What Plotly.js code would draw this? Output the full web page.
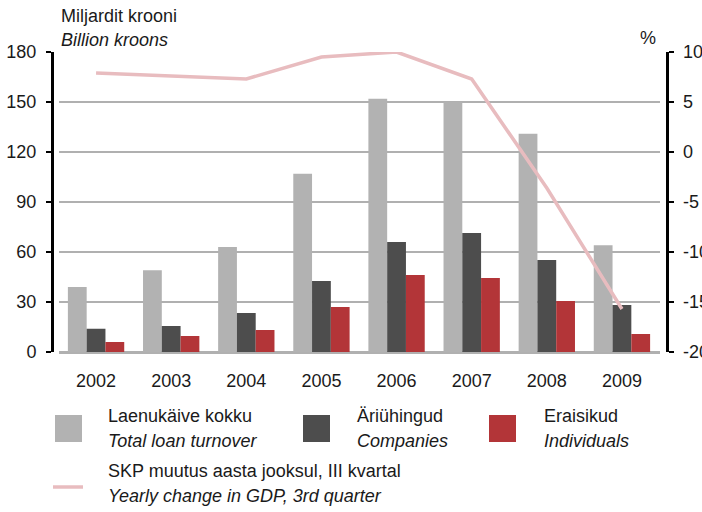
<!DOCTYPE html>
<html>
<head>
<meta charset="utf-8">
<script src="https://cdn.plot.ly/plotly-3.0.1.min.js"></script>
<style>
html,body{margin:0;padding:0;background:#fff;}
#chart{width:702px;height:512px;}
</style>
</head>
<body>
<div id="chart"></div>
<script>
// ---- data ----
const years = ['2002','2003','2004','2005','2006','2007','2008','2009'];
const totalTurnover = [39, 49, 63, 107, 152, 150, 131, 64];
const companies = [14, 15.6, 23.4, 42.6, 66, 71.4, 55.2, 28.2];
const individuals = [6, 9.6, 13.2, 27, 46.2, 44.4, 30.6, 10.8];
const gdpChange = [7.9, 7.6, 7.3, 9.5, 10.0, 7.3, -3.6, -15.7];

const leftTicks = [0, 30, 60, 90, 120, 150, 180];
const rightTicks = [-20, -15, -10, -5, 0, 5, 10];

const names = {
  total: ['Laenukäive kokku', 'Total loan turnover'],
  comp: ['Äriühingud', 'Companies'],
  ind: ['Eraisikud', 'Individuals'],
  gdp: ['SKP muutus aasta jooksul, III kvartal', 'Yearly change in GDP, 3rd quarter']
};

const colors = {total:'#b2b2b2', comp:'#4d4d4d', ind:'#b33538', gdp:'#e8bcbf'};
const FONT = 'Arial, "Liberation Sans", sans-serif';
const FS = 18;
const TXT = '#1a1a1a';

// ---- geometry helpers (pixel -> paper) ----
const L = 52, R = 667, T = 52, B = 352;
const px = x => (x - L) / (R - L);
const py = y => (B - y) / (B - T);

const traces = [
  {type:'bar', x:years, y:totalTurnover, name:names.total.join(' / '), marker:{color:colors.total}, hoverinfo:'y'},
  {type:'bar', x:years, y:companies, name:names.comp.join(' / '), marker:{color:colors.comp}, hoverinfo:'y'},
  {type:'bar', x:years, y:individuals, name:names.ind.join(' / '), marker:{color:colors.ind}, hoverinfo:'y'},
  {type:'scatter', mode:'lines', x:years, y:gdpChange, yaxis:'y2', name:names.gdp.join(' / '),
   line:{color:colors.gdp, width:3.5}, hoverinfo:'y'}
];

const shapes = [];
const annotations = [];

function ann(text, x, y, opts) {
  annotations.push(Object.assign({
    text:text, xref:'paper', yref:'paper', x:px(x), y:py(y),
    xanchor:'left', yanchor:'middle', showarrow:false, borderpad:0,
    font:{family:FONT, size:FS, color:TXT}
  }, opts || {}));
}

// axis titles
ann('Miljardit krooni', 60, 16);
ann('<i>Billion kroons</i>', 60, 40);
ann('%', 648, 38, {xanchor:'center'});

// legend
const legendItems = [
  {key:'total', sx:55, tx:107},
  {key:'comp', sx:303, tx:356},
  {key:'ind', sx:489, tx:543}
];
legendItems.forEach(it => {
  shapes.push({type:'rect', xref:'paper', yref:'paper',
    x0:px(it.sx), x1:px(it.sx + 27), y0:py(415), y1:py(442),
    fillcolor:colors[it.key], line:{width:0}});
  ann(names[it.key][0], it.tx, 416);
  ann('<i>' + names[it.key][1] + '</i>', it.tx, 441);
});
shapes.push({type:'line', xref:'paper', yref:'paper',
  x0:px(53), x1:px(83), y0:py(487), y1:py(487),
  line:{color:colors.gdp, width:3.5}});
ann(names.gdp[0], 107, 471);
ann('<i>' + names.gdp[1] + '</i>', 107, 496);

const layout = {
  width:702, height:512,
  margin:{l:L, r:702 - R, t:T, b:512 - B, pad:0},
  paper_bgcolor:'#ffffff', plot_bgcolor:'#ffffff',
  showlegend:false,
  barmode:'group', bargap:0.25, bargroupgap:0,
  font:{family:FONT, size:FS, color:TXT},
  xaxis:{
    type:'category', domain:[px(58.5), px(659.5)],
    showgrid:false, zeroline:false, ticks:'',
    showline:true, linecolor:'#b0b0b0', linewidth:1.5,
    ticklabelstandoff:12,
    tickfont:{family:FONT, size:FS, color:TXT}
  },
  yaxis:{
    range:[0, 180], tickvals:leftTicks, ticktext:leftTicks.map(String),
    anchor:'free', position:0,
    showgrid:true, gridcolor:'#b0b0b0', gridwidth:1.5,
    zeroline:true, zerolinecolor:'#b0b0b0', zerolinewidth:1.5,
    showline:true, linecolor:'#000000', linewidth:2.5,
    ticks:'outside', ticklen:5, tickwidth:2.5, tickcolor:'#000000',
    ticklabelstandoff:6,
    tickfont:{family:FONT, size:FS, color:TXT}
  },
  yaxis2:{
    range:[-20, 10], tickvals:rightTicks, ticktext:rightTicks.map(String),
    overlaying:'y', side:'right', anchor:'free', position:1,
    showgrid:false, zeroline:false,
    showline:true, linecolor:'#000000', linewidth:2.5,
    ticks:'outside', ticklen:5, tickwidth:2.5, tickcolor:'#000000',
    ticklabelstandoff:6,
    tickfont:{family:FONT, size:FS, color:TXT}
  },
  shapes:shapes,
  annotations:annotations
};

Plotly.newPlot('chart', traces, layout, {displayModeBar:false, staticPlot:true});
</script>
</body>
</html>
